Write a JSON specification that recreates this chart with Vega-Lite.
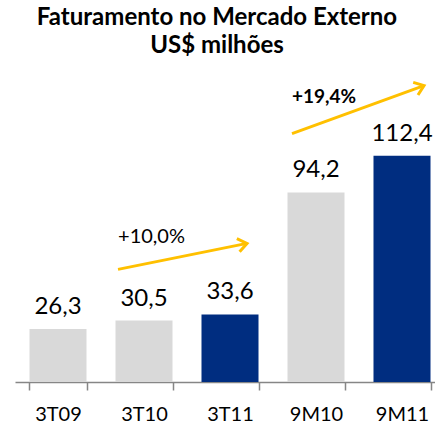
{
  "$schema": "https://vega.github.io/schema/vega-lite/v6.json",
  "width": 420,
  "height": 322,
  "autosize": {"type": "none"},
  "padding": {"left": 15, "top": 60, "right": 0, "bottom": 41},
  "config": {
    "view": {"stroke": null},
    "font": "Lato",
    "locale": {"number": {"decimal": ",", "thousands": ".", "grouping": [3], "currency": ["US$", ""]}}
  },
  "title": {
    "text": ["Faturamento no Mercado Externo", "US$ milhões"],
    "fontSize": 24,
    "fontWeight": "bold",
    "font": "Lato",
    "lineHeight": 28,
    "anchor": "middle",
    "dx": -8,
    "offset": 2,
    "color": "#000000"
  },
  "layer": [
    {
      "data": {
        "values": [
          {"periodo": "3T09", "valor": 26.3, "grupo": "anterior"},
          {"periodo": "3T10", "valor": 30.5, "grupo": "anterior"},
          {"periodo": "3T11", "valor": 33.6, "grupo": "atual"},
          {"periodo": "9M10", "valor": 94.2, "grupo": "anterior"},
          {"periodo": "9M11", "valor": 112.4, "grupo": "atual"}
        ]
      },
      "encoding": {
        "x": {
          "field": "periodo",
          "type": "nominal",
          "sort": null,
          "scale": {"range": [0, 430], "paddingInner": 0.337, "paddingOuter": 0.1685},
          "axis": {
            "title": null,
            "labelAngle": 0,
            "domainColor": "#868686",
            "domainWidth": 1.5,
            "tickColor": "#868686",
            "tickWidth": 1.5,
            "tickSize": 8,
            "tickBand": "extent",
            "labelFontSize": 20,
            "labelColor": "#000000",
            "labelPadding": 14
          }
        },
        "y": {
          "field": "valor",
          "type": "quantitative",
          "scale": {"domain": [0, 154]},
          "axis": null
        }
      },
      "layer": [
        {
          "mark": {"type": "bar"},
          "encoding": {
            "color": {
              "field": "grupo",
              "type": "nominal",
              "scale": {"domain": ["anterior", "atual"], "range": ["#D9D9D9", "#002D80"]},
              "legend": null
            }
          }
        },
        {
          "mark": {"type": "text", "baseline": "alphabetic", "dy": -15, "fontSize": 24, "color": "#000000"},
          "encoding": {"text": {"field": "valor", "type": "quantitative", "format": ".1f"}}
        }
      ]
    },
    {
      "layer": [
        {
          "data": {
            "values": [
              {"x_ini": 1.198, "y_ini": 55.96, "x_fim": 2.698, "y_fim": 68.87},
              {"x_ini": 3.221, "y_ini": 123.4, "x_fim": 4.756, "y_fim": 147.3}
            ]
          },
          "mark": {"type": "rule", "color": "#FFC000", "strokeWidth": 3},
          "encoding": {
            "x": {"field": "x_ini", "type": "quantitative", "scale": {"domain": [0, 5], "range": [0, 430]}, "axis": null},
            "y": {"field": "y_ini", "type": "quantitative", "scale": {"domain": [0, 154]}, "axis": null},
            "x2": {"field": "x_fim"},
            "y2": {"field": "y_fim"}
          }
        },
        {
          "data": {"values": [{"x": 2.698, "y": 68.87}]},
          "mark": {"type": "point", "shape": "M-1,-0.75L0,0L-1,0.75", "size": 324, "filled": false, "color": "#FFC000", "strokeWidth": 3, "opacity": 1, "angle": -11.8},
          "encoding": {
            "x": {"field": "x", "type": "quantitative"},
            "y": {"field": "y", "type": "quantitative"}
          }
        },
        {
          "data": {"values": [{"x": 4.756, "y": 147.3}]},
          "mark": {"type": "point", "shape": "M-1,-0.75L0,0L-1,0.75", "size": 324, "filled": false, "color": "#FFC000", "strokeWidth": 3, "opacity": 1, "angle": -20.7},
          "encoding": {
            "x": {"field": "x", "type": "quantitative"},
            "y": {"field": "y", "type": "quantitative"}
          }
        },
        {
          "data": {"values": [{"x": 1.198, "y": 68.9, "rotulo": "+10,0%"}]},
          "mark": {"type": "text", "align": "left", "baseline": "alphabetic", "fontSize": 20, "color": "#000000"},
          "encoding": {
            "x": {"field": "x", "type": "quantitative"},
            "y": {"field": "y", "type": "quantitative"},
            "text": {"field": "rotulo"}
          }
        },
        {
          "data": {"values": [{"x": 3.221, "y": 138.8, "rotulo": "+19,4%"}]},
          "mark": {"type": "text", "align": "left", "baseline": "alphabetic", "fontSize": 19, "fontWeight": "bold", "color": "#000000"},
          "encoding": {
            "x": {"field": "x", "type": "quantitative"},
            "y": {"field": "y", "type": "quantitative"},
            "text": {"field": "rotulo"}
          }
        }
      ]
    }
  ],
  "resolve": {"scale": {"x": "independent"}}
}
